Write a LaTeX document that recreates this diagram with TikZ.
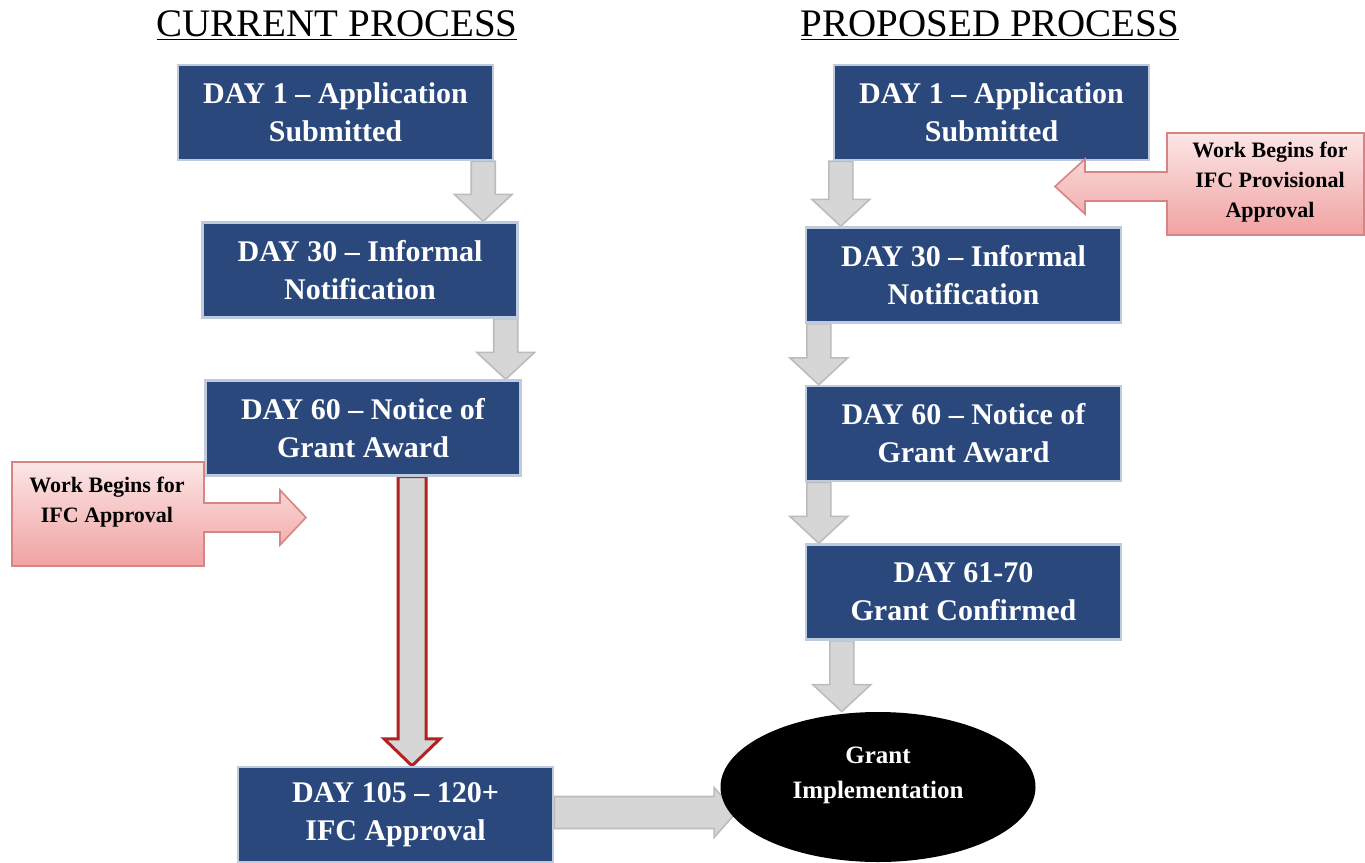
\documentclass[tikz,border=0pt]{standalone}
\usepackage{fontspec}
\setmainfont{Liberation Serif}
\usetikzlibrary{calc,backgrounds,shapes.geometric}

\definecolor{daybox}{RGB}{42,72,124}
\definecolor{dayedge}{RGB}{190,203,222}
\definecolor{pinktop}{RGB}{252,230,230}
\definecolor{pinkbot}{RGB}{241,162,162}
\definecolor{pinkedge}{RGB}{214,132,132}
\definecolor{arrowfill}{RGB}{214,214,214}
\definecolor{arrowedge}{RGB}{188,188,188}
\definecolor{rededge}{RGB}{178,34,34}

% gray block arrow going down: #1 start, #2 tip
\newcommand{\downblock}[2]{%
  \path[blockarrow] let \p1=(#1), \p2=(#2) in
    (\x1-6pt,\y1) -- (\x1-6pt,\y2+13.5pt) -- (\x1-14.5pt,\y2+13.5pt) -- (\x1,\y2)
    -- (\x1+14.5pt,\y2+13.5pt) -- (\x1+6pt,\y2+13.5pt) -- (\x1+6pt,\y1) -- cycle;}

\begin{document}
\begin{tikzpicture}[x=0.5pt,y=-0.5pt,
    daynode/.style={rectangle, draw=dayedge, line width=1.2pt, fill=daybox, text=white, font=\bfseries\fontsize{15}{19}\selectfont, align=center, minimum width=157.5pt, minimum height=47.5pt, inner sep=0pt},
    titlenode/.style={font=\fontsize{19.5}{23}\selectfont, inner sep=0pt},
    worknode/.style={font=\bfseries\fontsize{11}{15}\selectfont, align=center},
    blockarrow/.style={fill=arrowfill, draw=arrowedge, line width=0.8pt},
    calloutshape/.style={top color=pinktop, bottom color=pinkbot, draw=pinkedge, line width=0.8pt}
  ]
  \useasboundingbox (0,0) rectangle (1365,862);

  % titles
  \node[titlenode, anchor=base] (curtitle) at (337,36) {\underline{CURRENT PROCESS}};
  \node[titlenode, anchor=base] (proptitle) at (990,36) {\underline{PROPOSED PROCESS}};

  % current process
  \node[daynode] (d1c) at (335.5,112.5) {DAY 1 -- Application\\Submitted};
  \node[daynode] (d30c) at (360,270) {DAY 30 -- Informal\\Notification};
  \node[daynode] (d60c) at (363,428) {DAY 60 -- Notice of\\Grant Award};
  \node[daynode] (d105c) at (395.5,814.5) {DAY 105 -- 120+\\IFC Approval};

  % proposed process
  \node[daynode] (d1p) at (991.5,112.5) {DAY 1 -- Application\\Submitted};
  \node[daynode] (d30p) at (963.5,275) {DAY 30 -- Informal\\Notification};
  \node[daynode] (d60p) at (963.5,433.5) {DAY 60 -- Notice of\\Grant Award};
  \node[daynode] (d61p) at (963.5,592) {DAY 61-70\\Grant Confirmed};
  \node[ellipse, fill=black, text=white, minimum width=157.5pt, minimum height=75pt, align=center,
        font=\bfseries\fontsize{12.5}{17.5}\selectfont] (impl) at (878,787) {Grant\\Implementation\\[-3pt]\mbox{}};

  % callouts
  \path[calloutshape] (12,462) -- (204,462) -- (204,503) -- (280,503) -- (280,490) -- (306,517.5)
    -- (280,545) -- (280,532) -- (204,532) -- (204,566) -- (12,566) -- cycle;
  \node[worknode] (workc) at (107,502) {Work Begins for\\IFC Approval};
  \path[calloutshape] (1364,133) -- (1167,133) -- (1167,172) -- (1085,172) -- (1085,159) -- (1055,186.5)
    -- (1085,214) -- (1085,201) -- (1167,201) -- (1167,235) -- (1364,235) -- cycle;
  \node[worknode] (workp) at (1270,182) {Work Begins for\\IFC Provisional\\Approval};

  \begin{scope}[on background layer]
    \downblock{[xshift=-5.5pt]d1c.south east}{d30c.north}
    \downblock{[xshift=-6.5pt]d30c.south east}{d60c.north}
    \downblock{[xshift=4pt]d1p.south west}{d30p.north}
    \downblock{[xshift=7pt]d30p.south west}{d60p.north}
    \downblock{[xshift=7pt]d60p.south west}{d61p.north}
    \downblock{[xshift=18.5pt]d61p.south west}{impl.north}
    % long wait for approval
    \path[fill=arrowfill, draw=rededge, line width=1.5pt, line join=miter]
      let \p1=([xshift=24.5pt]d60c.south), \p2=(d105c.north) in
      (\x1-7pt,\y1) -- (\x1-7pt,\y2+13.5pt) -- (\x1-14pt,\y2+13.5pt) -- (\x1,\y2)
      -- (\x1+14pt,\y2+13.5pt) -- (\x1+7pt,\y2+13.5pt) -- (\x1+7pt,\y1) -- cycle;
    \path[blockarrow]
      let \p1=([yshift=1pt]d105c.east), \p2=([xshift=8pt]impl.west) in
      (\x1,\y1+8pt) -- (\x2-11pt,\y1+8pt) -- (\x2-11pt,\y1+12.5pt) -- (\x2,\y1)
      -- (\x2-11pt,\y1-12.5pt) -- (\x2-11pt,\y1-8pt) -- (\x1,\y1-8pt) -- cycle;
  \end{scope}
\end{tikzpicture}
\end{document}
